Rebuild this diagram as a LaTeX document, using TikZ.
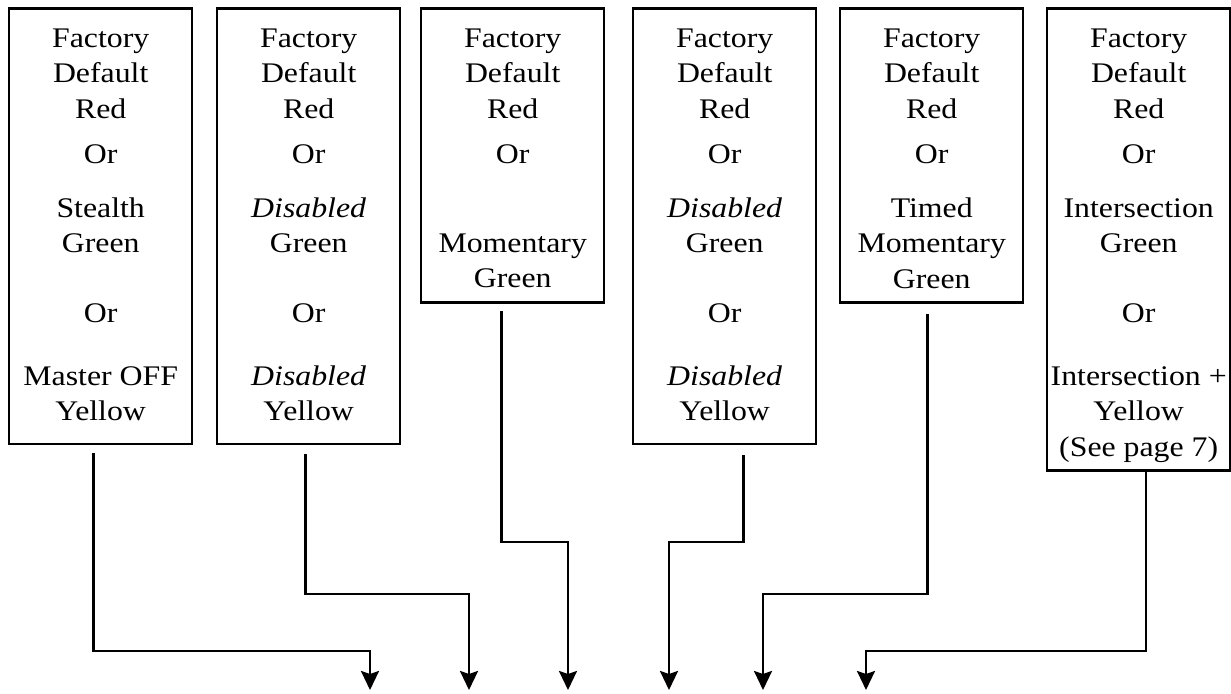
\documentclass[tikz,border=0pt]{standalone}
\usepackage{fontspec}
\setmainfont{Liberation Serif}[FakeStretch=1.12]
\usetikzlibrary{arrows.meta}

\begin{document}
\begin{tikzpicture}[x=0.5pt, y=-0.5pt, font=\fontsize{14.2}{17.75}\selectfont]
        \tikzstyle{box} = [draw=black, line width=1.2pt, minimum width=91.5pt, anchor=north west, inner sep=0pt]
        \tikzstyle{txt} = [anchor=north, align=center, inner sep=0pt, yshift=-10.5pt]
        \tikzstyle{flow} = [draw=black, line width=1.3pt, -{Stealth[length=9.5pt, width=9pt, inset=1.5pt]}]
        \useasboundingbox (0,0) rectangle (1231,694);
        % mode boxes
        \node[box, minimum height=217.75pt] (b1) at (8,7.5) {};
        \node[box, minimum height=217.75pt] (b2) at (216,7.5) {};
        \node[box, minimum height=147pt] (b3) at (420,7.5) {};
        \node[box, minimum height=217.75pt] (b4) at (632,7.5) {};
        \node[box, minimum height=147pt] (b5) at (839,7.5) {};
        \node[box, minimum height=231pt] (b6) at (1046,7.5) {};
        \node[txt] (t1) at (b1.north) {Factory\\Default\\Red\\[4.75pt]Or\\[9.25pt]Stealth\\Green\\[17pt]Or\\[13.75pt]Master OFF\\Yellow};
        \node[txt] (t2) at (b2.north) {Factory\\Default\\Red\\[4.75pt]Or\\[9.25pt]\textit{Disabled}\\Green\\[17pt]Or\\[13.75pt]\textit{Disabled}\\Yellow};
        \node[txt] (t3) at (b3.north) {Factory\\Default\\Red\\[4.75pt]Or\\[26.75pt]Momentary\\Green};
        \node[txt] (t4) at (b4.north) {Factory\\Default\\Red\\[4.75pt]Or\\[9.25pt]\textit{Disabled}\\Green\\[17pt]Or\\[13.75pt]\textit{Disabled}\\Yellow};
        \node[txt] (t5) at (b5.north) {Factory\\Default\\Red\\[4.75pt]Or\\[9.25pt]Timed\\Momentary\\Green};
        \node[txt] (t6) at (b6.north) {Factory\\Default\\Red\\[4.75pt]Or\\[9.25pt]Intersection\\Green\\[17pt]Or\\[13.75pt]Intersection +\\Yellow\\(See page 7)};
        % arrow ends
        \coordinate (e1) at (370,690);
        \coordinate (e2) at (469,690);
        \coordinate (e3) at (568,690);
        \coordinate (e4) at (669,690);
        \coordinate (e5) at (763,690);
        \coordinate (e6) at (866,690);
        \draw[flow] ([xshift=-3.75pt,yshift=-4pt]b1.south) |- (370,651) -- (e1);
        \draw[flow] ([xshift=-1.75pt,yshift=-4.5pt]b2.south) |- (469,594) -- (e2);
        \draw[flow] ([xshift=-5.75pt,yshift=-3.75pt]b3.south) |- (568,542) -- (e3);
        \draw[flow] ([xshift=9.25pt,yshift=-5pt]b4.south) |- (669,542) -- (e4);
        \draw[flow] ([xshift=-2.25pt,yshift=-5.25pt]b5.south) |- (763,594) -- (e5);
        \draw[flow] (b6.south -| 1146,0) |- (866,651) -- (e6);
\end{tikzpicture}
\end{document}
